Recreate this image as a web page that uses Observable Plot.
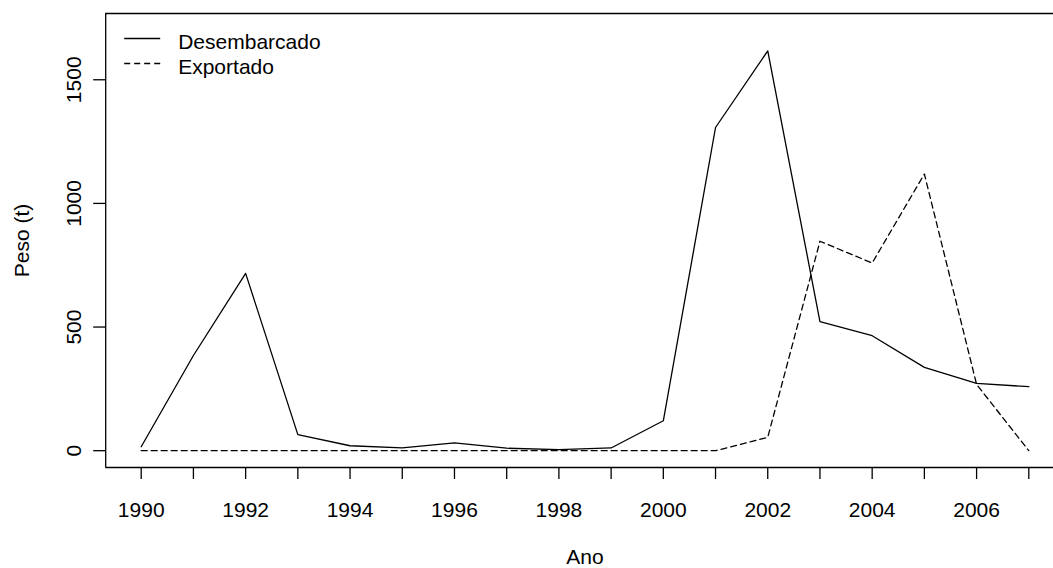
<!DOCTYPE html>
<html><head><meta charset="utf-8">
<script src="https://cdn.jsdelivr.net/npm/d3@7"></script>
<script src="https://cdn.jsdelivr.net/npm/@observablehq/plot@0.6"></script>
<style>
html,body{margin:0;padding:0;background:#fff;overflow:hidden}
#chart svg{display:block;font-family:"Liberation Sans",Arial,Helvetica,sans-serif;color:#000}
</style></head><body><div id="chart"></div>
<script>
// ---- data ----
const years = [1990,1991,1992,1993,1994,1995,1996,1997,1998,1999,2000,2001,2002,2003,2004,2005,2006,2007];
const desembarcado = [16,385,717,65,20,11,32,10,4,11,121,1307,1617,522,465,337,272,259];
const exportado = [0,0,0,0,0,0,0,0,0,0,0,0,54,847,759,1119,268,0];
const seriesNames = ["Desembarcado","Exportado"];
const seriesDash = [null,"6,4"];
const yTicks = [0,500,1000,1500];
const xLabelYears = [1990,1992,1994,1996,1998,2000,2002,2004,2006];
const xTitle = "Ano";
const yTitle = "Peso (t)";

// R-style extended limits (xlim 1990..2007 +4%, ylim 0..1700 +4%); plot region is cropped on the right
const xFull = [1989.32, 2007.68];
const xDomain = [1989.32, 2007.473];
const yDomain = [-68, 1768];

const rowsD = years.map((yr,i)=>({year:yr, value:desembarcado[i]}));
const rowsE = years.map((yr,i)=>({year:yr, value:exportado[i]}));

const FS = 21;

function legendMark(index, scales, values, dims) {
  const g = d3.create("svg:g")
    .attr("font-size", FS).attr("fill", "black")
    .attr("text-anchor", "start")
    .attr("font-family", '"Liberation Sans",Arial,sans-serif');
  seriesNames.forEach((name, i) => {
    const yy = dims.marginTop + 25.5 + i * 25;
    const ln = g.append("line")
      .attr("x1", dims.marginLeft + 19).attr("x2", dims.marginLeft + 55)
      .attr("y1", yy).attr("y2", yy)
      .attr("stroke", "black").attr("stroke-width", 1.3);
    if (seriesDash[i]) ln.attr("stroke-dasharray", seriesDash[i]);
    g.append("text")
      .attr("x", dims.marginLeft + 73).attr("y", yy + 10)
      .attr("text-anchor", "start")
      .text(name);
  });
  return g.node();
}

const chart = Plot.plot({
  width: 1053,
  height: 568,
  marginTop: 13,
  marginBottom: 101,
  marginLeft: 105.2,
  marginRight: 0,
  style: {fontFamily: '"Liberation Sans",Arial,sans-serif', background: "white", color: "black"},
  x: {domain: xDomain, label: null},
  y: {domain: yDomain, label: null},
  marks: [
    Plot.axisX(years, {tickSize: 12, tickFormat: () => "", strokeWidth: 1.3, label: null}),
    Plot.axisY(yTicks, {tickSize: 12, tickFormat: () => "", strokeWidth: 1.3, label: null}),
    Plot.ruleY(yDomain, {strokeWidth: 1.3}),
    Plot.ruleX([xDomain[0]], {strokeWidth: 1.3}),
    Plot.text(xLabelYears, {x: d => d, text: d => String(d), frameAnchor: "bottom", dy: 49.7, lineAnchor: "bottom", fontSize: FS}),
    Plot.text(yTicks, {y: d => d, text: d => String(d), frameAnchor: "left", dx: -25.2, rotate: -90, textAnchor: "middle", lineAnchor: "bottom", fontSize: FS}),
    Plot.text([xTitle], {x: () => (xFull[0] + xFull[1]) / 2, text: d => d, frameAnchor: "bottom", dy: 96, lineAnchor: "bottom", fontSize: FS}),
    Plot.text([yTitle], {text: d => d, frameAnchor: "left", dx: -77.2, rotate: -90, textAnchor: "middle", lineAnchor: "bottom", fontSize: FS}),
    Plot.line(rowsD, {x: "year", y: "value", stroke: "black", strokeWidth: 1.3}),
    Plot.line(rowsE, {x: "year", y: "value", stroke: "black", strokeWidth: 1.3, strokeDasharray: seriesDash[1]}),
    legendMark
  ]
});
document.getElementById("chart").appendChild(chart);
</script>
</body></html>
